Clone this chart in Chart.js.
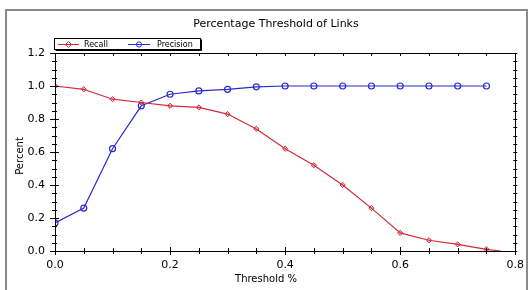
<!DOCTYPE html>
<html>
<head>
<meta charset="utf-8">
<script src="https://cdn.jsdelivr.net/npm/chart.js@4/dist/chart.umd.min.js"></script>
<style>
html,body{margin:0;padding:0;background:#fff;}
#wrap{width:532px;height:290px;position:relative;}
canvas{display:block;}
</style>
</head>
<body>
<div id="wrap"><canvas id="c" width="532" height="290"></canvas></div>
<script>
// ---- data ----
const chartTitle = "Percentage Threshold of Links";
const xAxisTitle = "Threshold %";
const yAxisTitle = "Percent";
const seriesNames = ["Recall", "Precision"];
const thresholds = [0, 0.05, 0.10, 0.15, 0.20, 0.25, 0.30, 0.35, 0.40, 0.45, 0.50, 0.55, 0.60, 0.65, 0.70, 0.75];
const recall = [1.00, 0.98, 0.92, 0.90, 0.88, 0.87, 0.83, 0.74, 0.62, 0.52, 0.40, 0.26, 0.11, 0.065, 0.04, 0.01];
const recallTailX = [0.775];
const recallTail = [0.0];
const precision = [0.17, 0.26, 0.62, 0.88, 0.95, 0.97, 0.98, 0.995, 1.00, 1.00, 1.00, 1.00, 1.00, 1.00, 1.00, 1.00];
const xTickLabels = ["0.0", "0.2", "0.4", "0.6", "0.8"];
const yTickLabels = ["0.0", "0.2", "0.4", "0.6", "0.8", "1.0", "1.2"];

const RED = "#d42a3c";
const BLUE = "#2a2ad0";
const FONT = "'DejaVu Sans', Verdana, sans-serif";

const recallPts = thresholds.map((t, i) => ({x: t, y: recall[i]}))
  .concat(recallTailX.map((t, i) => ({x: t, y: recallTail[i]})));
const precisionPts = thresholds.map((t, i) => ({x: t, y: precision[i]}));

function isMajor(v) {
  const r = v / 0.2;
  return Math.abs(r - Math.round(r)) < 1e-6;
}

const decor = {
  id: 'decor',
  beforeDraw(chart) {
    const ctx = chart.ctx;
    ctx.save();
    ctx.fillStyle = '#fff';
    ctx.fillRect(0, 0, chart.width, chart.height);
    // outer frame
    ctx.strokeStyle = '#8a8a8a';
    ctx.lineWidth = 2;
    ctx.strokeRect(6, 10, 521, 290);
    ctx.restore();
  },
  afterDraw(chart) {
    const ctx = chart.ctx;
    const a = chart.chartArea;
    const xs = chart.scales.x, ys = chart.scales.y;
    ctx.save();
    ctx.strokeStyle = '#000';
    ctx.lineWidth = 1;
    // plot box
    ctx.beginPath();
    ctx.rect(Math.round(a.left) + 0.5, Math.round(a.top) + 0.5, Math.round(a.right - a.left), Math.round(a.bottom - a.top));
    ctx.stroke();
    // ticks
    ctx.beginPath();
    xs.ticks.forEach(t => {
      const px = Math.round(xs.getPixelForValue(t.value)) + 0.5;
      const m = isMajor(t.value);
      ctx.moveTo(px, a.bottom - (m ? 4 : 3));
      ctx.lineTo(px, a.bottom + (m ? 4 : 3));
      ctx.moveTo(px, a.top);
      ctx.lineTo(px, a.top + 3);
    });
    ys.ticks.forEach(t => {
      const py = Math.round(ys.getPixelForValue(t.value)) + 0.5;
      const m = isMajor(t.value);
      ctx.moveTo(a.left - (m ? 5 : 3), py);
      ctx.lineTo(a.left + (m ? 4 : 2), py);
      ctx.moveTo(a.right - 2, py);
      ctx.lineTo(a.right + 2, py);
    });
    ctx.stroke();

    // title
    ctx.fillStyle = '#000';
    ctx.font = "11px " + FONT;
    ctx.textAlign = 'center';
    ctx.textBaseline = 'middle';
    ctx.fillText(chartTitle, 276, 24);
    // axis titles
    ctx.font = "10px " + FONT;
    ctx.fillText(xAxisTitle, 266, 279);
    ctx.save();
    ctx.translate(20, 156);
    ctx.rotate(-Math.PI / 2);
    ctx.fillText(yAxisTitle, 0, 0);
    ctx.restore();

    // legend
    const lx = 54, ly = 38, lw = 146, lh = 11;
    ctx.lineWidth = 1;
    ctx.strokeStyle = '#000';
    ctx.strokeRect(lx + 0.5, ly + 0.5, lw, lh);
    ctx.beginPath();
    ctx.moveTo(lx + 1.5, ly + lh + 1.5); ctx.lineTo(lx + lw + 1.5, ly + lh + 1.5); ctx.lineTo(lx + lw + 1.5, ly + 1.5);
    ctx.stroke();
    const cy = ly + 6;
    const items = [
      {x0: 58, x1: 79, text: 'Recall', tx: 84, ds: 0},
      {x0: 128, x1: 150, text: 'Precision', tx: 157, ds: 1}
    ];
    ctx.font = "8px " + FONT;
    ctx.textAlign = 'left';
    items.forEach(it => {
      const ds = chart.data.datasets[it.ds];
      ctx.strokeStyle = ds.borderColor;
      ctx.beginPath();
      ctx.moveTo(it.x0, cy + 0.5); ctx.lineTo(it.x1, cy + 0.5);
      ctx.stroke();
      const mx = (it.x0 + it.x1) / 2;
      ctx.beginPath();
      if (ds.pointStyle === 'circle') {
        ctx.arc(mx, cy + 0.5, 2.6, 0, Math.PI * 2);
      } else {
        ctx.moveTo(mx, cy - 2.5); ctx.lineTo(mx + 3, cy + 0.5); ctx.lineTo(mx, cy + 3.5); ctx.lineTo(mx - 3, cy + 0.5); ctx.closePath();
      }
      ctx.stroke();
      ctx.fillStyle = '#000';
      ctx.fillText(it.text, it.tx, cy + 1);
    });
    ctx.restore();
  }
};

new Chart(document.getElementById('c'), {
  type: 'line',
  data: {
    datasets: [
      {
        label: seriesNames[0],
        data: recallPts,
        borderColor: RED,
        backgroundColor: 'rgba(212,42,60,0.25)',
        borderWidth: 1.2,
        pointStyle: 'rectRot',
        pointRadius: recallPts.map((p, i) => i < thresholds.length ? 2.6 : 0),
        pointBorderWidth: 1,
        tension: 0,
        fill: false
      },
      {
        label: seriesNames[1],
        data: precisionPts,
        borderColor: BLUE,
        backgroundColor: 'rgba(0,0,0,0)',
        borderWidth: 1.2,
        pointStyle: 'circle',
        pointRadius: 3,
        pointBorderWidth: 1.2,
        tension: 0,
        fill: false
      }
    ]
  },
  options: {
    responsive: false,
    animation: false,
    devicePixelRatio: 1,
    layout: {padding: {left: 25, right: 10, top: 53, bottom: 19}},
    plugins: {legend: {display: false}, title: {display: false}, tooltip: {enabled: false}},
    scales: {
      x: {
        type: 'linear', min: 0, max: 0.8,
        afterFit(s) { s.height = 20; },
        grid: {display: false, drawTicks: false},
        border: {display: false},
        ticks: {
          stepSize: 0.05, autoSkip: false, maxRotation: 0, padding: 8,
          color: '#000', font: {family: FONT, size: 11},
          callback(v) { if (!isMajor(v)) return ''; const i = Math.round(v / 0.2); return xTickLabels[i]; }
        }
      },
      y: {
        type: 'linear', min: 0, max: 1.2,
        afterFit(s) { s.width = 30; },
        grid: {display: false, drawTicks: false},
        border: {display: false},
        ticks: {
          stepSize: 0.05, autoSkip: false, padding: 10,
          color: '#000', font: {family: FONT, size: 11},
          callback(v) { if (!isMajor(v)) return ''; const i = Math.round(v / 0.2); return yTickLabels[i]; }
        }
      }
    }
  },
  plugins: [decor]
});
</script>
</body>
</html>
